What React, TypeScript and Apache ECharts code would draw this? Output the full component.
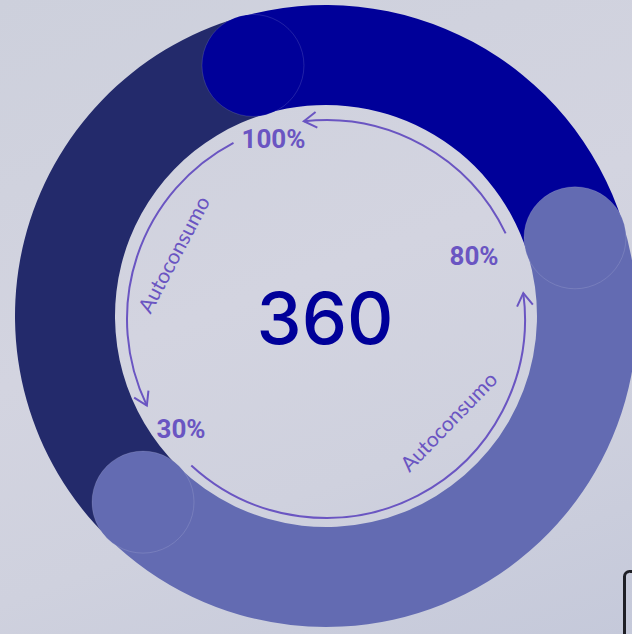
import React, { useEffect, useRef } from "react";
import * as echarts from "echarts";

// ---- data ----
const segmentNames = ["Azul", "Lavanda", "Marino"];
const segmentShares = [24.67, 42.21, 33.12]; // percent of the ring
const segmentColors = ["#000099", "#636bb2", "#232a6b"];
const capSegments = [0, 1, 1]; // which segment each round cap belongs to
const capPositions = [0, 24.67, 66.88]; // cumulative percent where caps sit
const totalValue = "360";
const percentLabels = ["100%", "80%", "30%"];
const arcCaption = "Autoconsumo";

const CX = 326;
const CY = 316;
const R_IN = 211;
const R_OUT = 311;
const START_ANGLE = 106.25;
const ACX = 326;
const ACY = 319;
const ARC_R = 199;
const PURPLE = "#6a55c2";

const rad = (d: number) => (d * Math.PI) / 180;

function arc(fromDeg: number, toDeg: number) {
  return {
    type: "arc",
    silent: true,
    shape: {
      cx: ACX,
      cy: ACY,
      r: ARC_R,
      startAngle: -rad(toDeg),
      endAngle: -rad(fromDeg),
      clockwise: true,
    },
    style: { stroke: PURPLE, lineWidth: 2, fill: "none" },
  };
}

function arrowHead(deg: number, ccw: boolean) {
  const t = rad(deg);
  const tipX = ACX + ARC_R * Math.cos(t);
  const tipY = ACY - ARC_R * Math.sin(t);
  let dx = -Math.sin(t);
  let dy = -Math.cos(t);
  if (!ccw) {
    dx = -dx;
    dy = -dy;
  }
  const bx = -dx;
  const by = -dy;
  const L = 15;
  const a = rad(32);
  const p1 = [tipX + L * (bx * Math.cos(a) - by * Math.sin(a)), tipY + L * (bx * Math.sin(a) + by * Math.cos(a))];
  const p2 = [tipX + L * (bx * Math.cos(-a) - by * Math.sin(-a)), tipY + L * (bx * Math.sin(-a) + by * Math.cos(-a))];
  return {
    type: "polyline",
    silent: true,
    shape: { points: [p1, [tipX, tipY], p2] },
    style: { stroke: PURPLE, lineWidth: 2, fill: "none" },
  };
}

function pctText(text: string, x: number, y: number) {
  return {
    type: "text",
    silent: true,
    x,
    y,
    style: {
      text,
      fill: PURPLE,
      font: "bold 26px Roboto",
      align: "center",
      verticalAlign: "middle",
    },
  };
}

function captionText(x: number, y: number, rotDeg: number) {
  return {
    type: "text",
    silent: true,
    x,
    y,
    rotation: rad(rotDeg),
    style: {
      text: arcCaption,
      fill: PURPLE,
      font: "normal 21px Lato",
      align: "center",
      verticalAlign: "middle",
    },
  };
}

export default function App() {
  const ref = useRef<HTMLDivElement>(null);

  useEffect(() => {
    if (!ref.current) return;
    const chart = echarts.init(ref.current, null, { renderer: "svg" });

    const pieData = segmentNames.map((n, i) => ({
      name: n,
      value: segmentShares[i],
      itemStyle: { color: segmentColors[i] },
    }));

    const capData = capPositions.map((p, i) => ({
      value: [(R_IN + R_OUT) / 2, p],
      itemStyle: { color: segmentColors[capSegments[i]] },
    }));

    const option: any = {
      animation: false,
      backgroundColor: "transparent",
      polar: { center: [CX, CY], radius: R_OUT },
      radiusAxis: { type: "value", min: 0, max: R_OUT, show: false },
      angleAxis: {
        type: "value",
        min: 0,
        max: 100,
        startAngle: START_ANGLE,
        clockwise: true,
        show: false,
      },
      series: [
        {
          type: "pie",
          center: [CX, CY],
          radius: [R_IN, R_OUT],
          startAngle: START_ANGLE,
          clockwise: true,
          silent: true,
          label: { show: false },
          labelLine: { show: false },
          itemStyle: { borderWidth: 0 },
          data: pieData,
          z: 1,
        },
        {
          type: "scatter",
          coordinateSystem: "polar",
          symbol: "circle",
          symbolSize: R_OUT - R_IN + 2,
          silent: true,
          itemStyle: {
            opacity: 1,
            borderColor: "rgba(255,255,255,0.22)",
            borderWidth: 0.6,
          },
          data: capData,
          z: 3,
        },
      ],
      graphic: [
        {
          type: "text",
          silent: true,
          x: CX - 1,
          y: CY + 1,
          style: {
            text: totalValue,
            fill: "#000099",
            font: "500 72px Inter",
            align: "center",
            verticalAlign: "middle",
          },
        },
        arc(25.5, 96.4),
        arrowHead(96.4, true),
        arc(117.7, 205.8),
        arrowHead(205.8, true),
        arc(227.4, 367.5),
        arrowHead(7.5, true),
        pctText(percentLabels[0], 273.5, 139),
        pctText(percentLabels[1], 474, 256),
        pctText(percentLabels[2], 181, 429),
        captionText(173, 254, 62),
        captionText(448, 421, 46),
        {
          type: "rect",
          silent: true,
          shape: { x: 624.5, y: 571.5, width: 40, height: 100, r: 5 },
          style: { fill: "none", stroke: "#1e1f26", lineWidth: 3 },
        },
      ],
    };

    chart.setOption(option);
    return () => chart.dispose();
  }, []);

  return (
    <div
      ref={ref}
      style={{
        position: "fixed",
        left: 0,
        top: 0,
        width: 632,
        height: 634,
        background:
          "linear-gradient(160deg, #cdd0dc 0%, #d3d4e0 45%, #cfd1de 70%, #c5c9da 100%)",
      }}
    />
  );
}
